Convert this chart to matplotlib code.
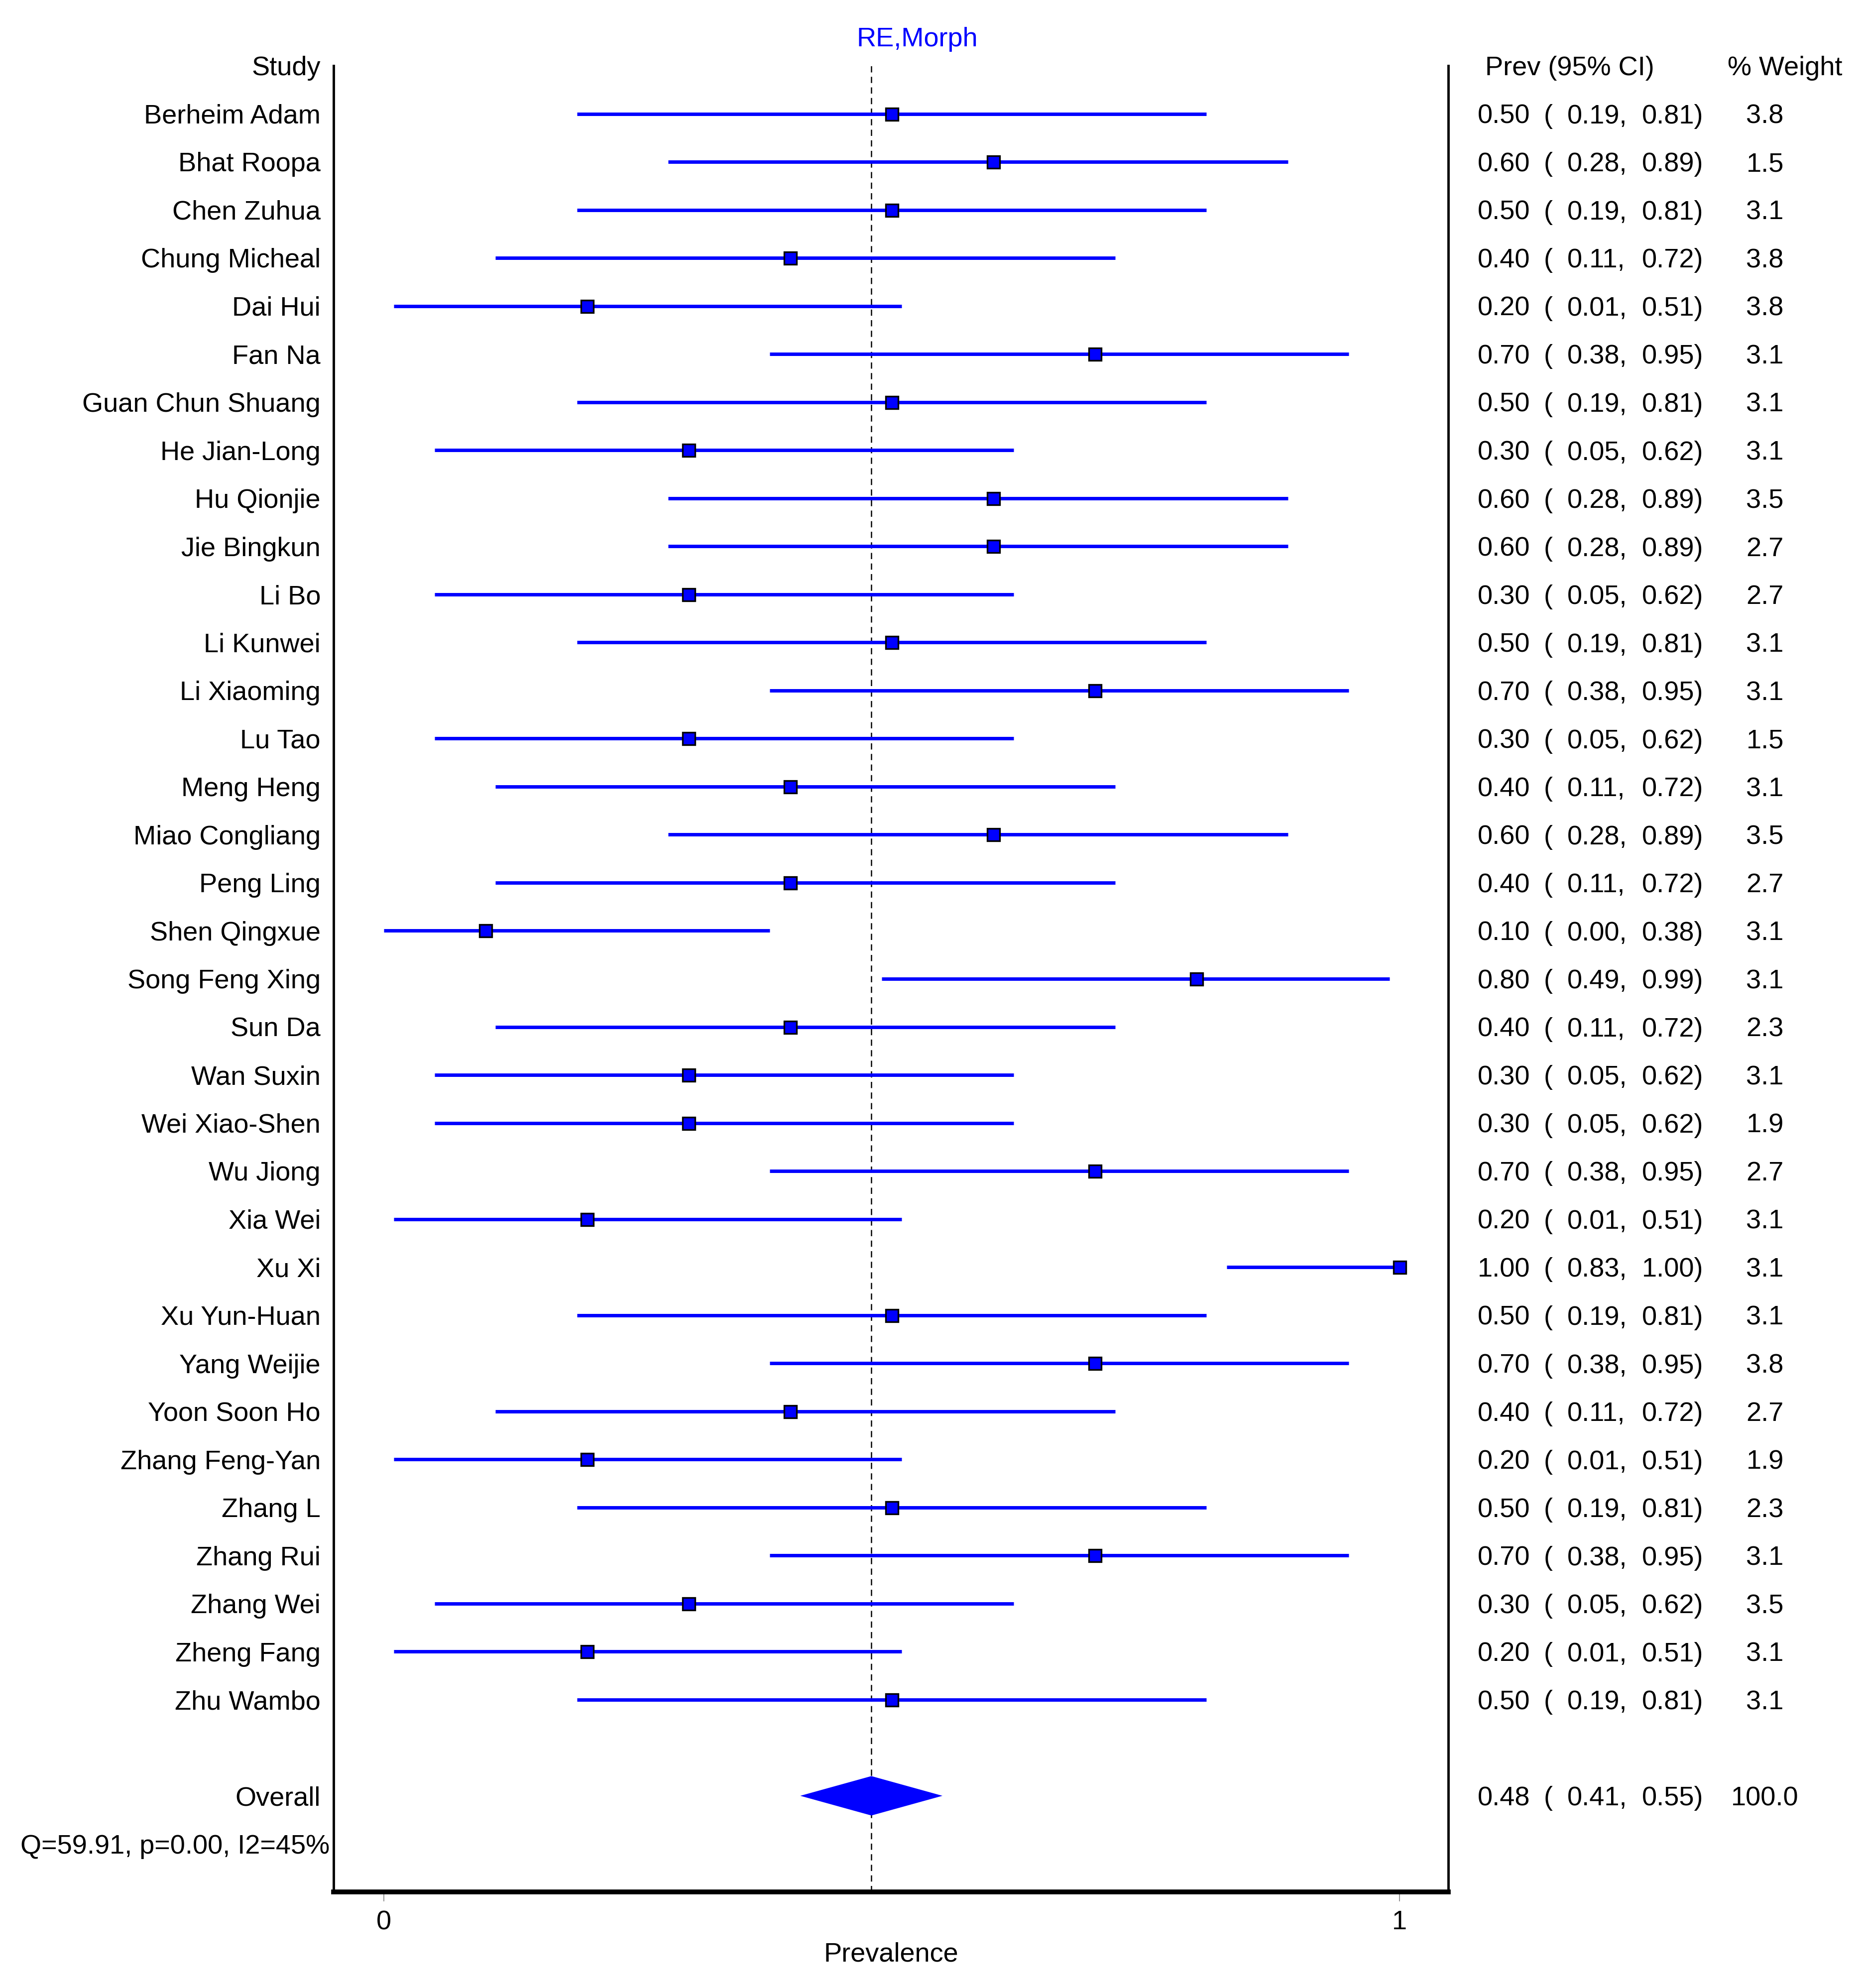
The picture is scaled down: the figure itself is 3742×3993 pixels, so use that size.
import matplotlib
matplotlib.use("Agg")
import matplotlib.pyplot as plt

plt.rcParams['font.family'] = ['Liberation Sans', 'DejaVu Sans']

# study data
studies = ["Berheim Adam", "Bhat Roopa", "Chen Zuhua", "Chung Micheal", "Dai Hui",
           "Fan Na", "Guan Chun Shuang", "He Jian-Long", "Hu Qionjie", "Jie Bingkun",
           "Li Bo", "Li Kunwei", "Li Xiaoming", "Lu Tao", "Meng Heng",
           "Miao Congliang", "Peng Ling", "Shen Qingxue", "Song Feng Xing", "Sun Da",
           "Wan Suxin", "Wei Xiao-Shen", "Wu Jiong", "Xia Wei", "Xu Xi",
           "Xu Yun-Huan", "Yang Weijie", "Yoon Soon Ho", "Zhang Feng-Yan", "Zhang L",
           "Zhang Rui", "Zhang Wei", "Zheng Fang", "Zhu Wambo"]
prev = [0.50, 0.60, 0.50, 0.40, 0.20, 0.70, 0.50, 0.30, 0.60, 0.60,
        0.30, 0.50, 0.70, 0.30, 0.40, 0.60, 0.40, 0.10, 0.80, 0.40,
        0.30, 0.30, 0.70, 0.20, 1.00, 0.50, 0.70, 0.40, 0.20, 0.50,
        0.70, 0.30, 0.20, 0.50]
lower = [0.19, 0.28, 0.19, 0.11, 0.01, 0.38, 0.19, 0.05, 0.28, 0.28,
         0.05, 0.19, 0.38, 0.05, 0.11, 0.28, 0.11, 0.00, 0.49, 0.11,
         0.05, 0.05, 0.38, 0.01, 0.83, 0.19, 0.38, 0.11, 0.01, 0.19,
         0.38, 0.05, 0.01, 0.19]
upper = [0.81, 0.89, 0.81, 0.72, 0.51, 0.95, 0.81, 0.62, 0.89, 0.89,
         0.62, 0.81, 0.95, 0.62, 0.72, 0.89, 0.72, 0.38, 0.99, 0.72,
         0.62, 0.62, 0.95, 0.51, 1.00, 0.81, 0.95, 0.72, 0.51, 0.81,
         0.95, 0.62, 0.51, 0.81]
weight = [3.8, 1.5, 3.1, 3.8, 3.8, 3.1, 3.1, 3.1, 3.5, 2.7,
          2.7, 3.1, 3.1, 1.5, 3.1, 3.5, 2.7, 3.1, 3.1, 2.3,
          3.1, 1.9, 2.7, 3.1, 3.1, 3.1, 3.8, 2.7, 1.9, 2.3,
          3.1, 3.5, 3.1, 3.1]
overall = (0.48, 0.41, 0.55, 100.0)
het_text = "Q=59.91, p=0.00, I2=45%"

W, H = 3742, 3993
fig = plt.figure(figsize=(W / 100, H / 100), dpi=100)
ax = fig.add_axes([670 / W, 1 - 3800 / H, (2909 - 670) / W, (3800 - 132) / H])

blue = '#0000ff'
fs = 39
base = 0.2  # baseline offset (rows) so caps are centred on the row

n = len(studies)
rows = list(range(n))
for i in rows:
    ax.plot([lower[i], upper[i]], [i, i], color=blue, lw=5, solid_capstyle='butt', zorder=3)
    ax.plot(prev[i], i, marker='s', ms=18, mfc=blue, mec='black', mew=2.4, zorder=4)

# overall diamond
oy = n + 1
est, lo, hi, ow = overall
ax.fill([lo, est, hi, est], [oy, oy - 0.41, oy, oy + 0.41], color=blue, lw=0, zorder=3)

ax.axvline(est, color='black', lw=1.8, ls=(0, (5, 3.5)), zorder=2)

ax.set_xlim(-0.0495, 1.048)
ax.set_ylim(37, -1)
ax.set_xticks([0, 1])
ax.set_xticklabels(['0', '1'], fontsize=fs)
ax.set_yticks([])
ax.tick_params(axis='x', length=14, width=1.2, color='#808080', pad=12)
ax.spines['top'].set_visible(False)
ax.spines['left'].set_linewidth(3.5)
ax.spines['right'].set_linewidth(3.5)
ax.spines['bottom'].set_linewidth(7)
ax.set_xlabel("Prevalence", fontsize=fs, labelpad=10)

# left column
xl = -0.0623
ax.text(xl, -1 + base, "Study", ha='right', va='baseline', fontsize=fs, clip_on=False)
for i in rows:
    ax.text(xl, i + base, studies[i], ha='right', va='baseline', fontsize=fs, clip_on=False)
ax.text(xl, oy + base, "Overall", ha='right', va='baseline', fontsize=fs, clip_on=False)
ax.text(-0.358, oy + 1 + base, het_text, ha='left', va='baseline', fontsize=fs, clip_on=False)

# title
ax.text(0.525, -1.606 + base, "RE,Morph", ha='center', va='baseline', fontsize=fs,
        color=blue, clip_on=False)

# right columns
xp, xb, xlo, xhi, xw = 1.0770, 1.1417, 1.1652, 1.2387, 1.3598
ax.text(1.0843, -1 + base, "Prev (95% CI)", ha='left', va='baseline', fontsize=fs, clip_on=False)
ax.text(1.3230, -1 + base, "% Weight", ha='left', va='baseline', fontsize=fs, clip_on=False)


def row_text(y, p, l, u, w):
    ax.text(xp, y + base, f"{p:.2f}", ha='left', va='baseline', fontsize=fs, clip_on=False)
    ax.text(xb, y + base, "(", ha='left', va='baseline', fontsize=fs, clip_on=False)
    ax.text(xlo, y + base, f"{l:.2f},", ha='left', va='baseline', fontsize=fs, clip_on=False)
    ax.text(xhi, y + base, f"{u:.2f})", ha='left', va='baseline', fontsize=fs, clip_on=False)
    ax.text(xw, y + base, f"{w:.1f}", ha='center', va='baseline', fontsize=fs, clip_on=False)


for i in rows:
    row_text(i, prev[i], lower[i], upper[i], weight[i])
row_text(oy, est, lo, hi, ow)

fig.savefig("out.png", dpi=100)
